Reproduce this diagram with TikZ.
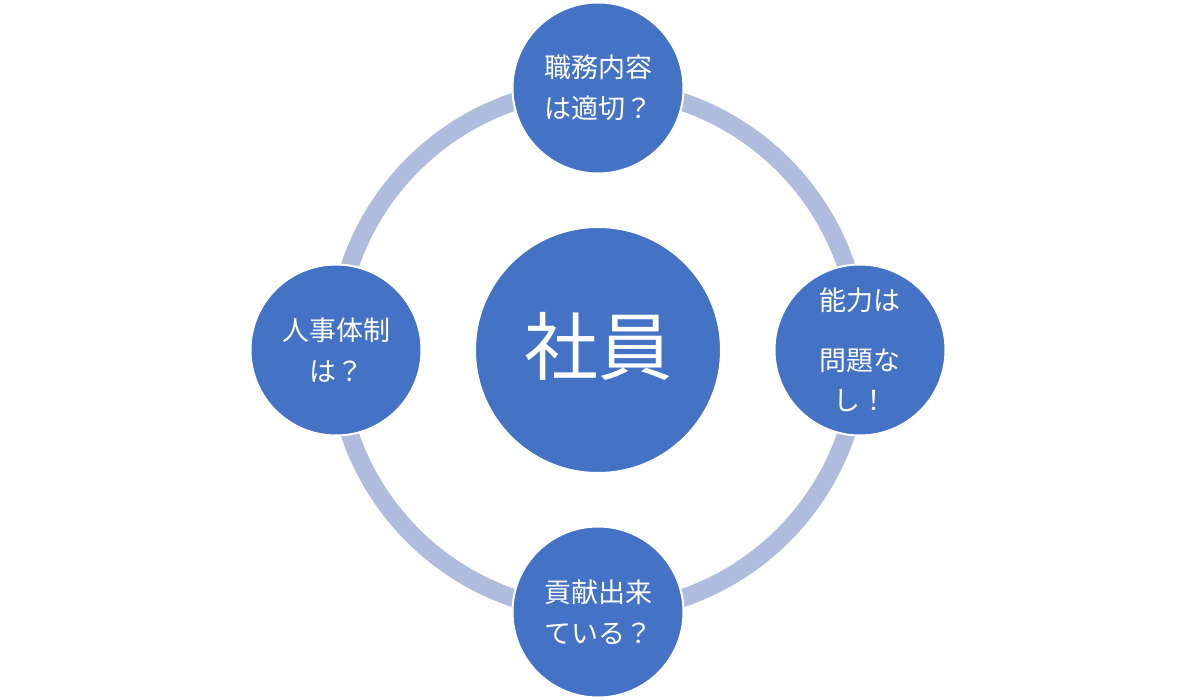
\documentclass[tikz,border=0pt]{standalone}
\usepackage{fontspec}
\setmainfont{Noto Sans CJK JP}
\definecolor{maruao}{RGB}{68,114,196}
\definecolor{waao}{RGB}{176,188,221}
\tikzset{
  maru/.style={circle, fill=maruao, draw=white, line width=2pt, minimum size=171pt,
    inner sep=0pt, text=white, align=center, font=\fontsize{27}{41}\selectfont},
  wa/.style={draw=waao, line width=18pt}
}
\begin{document}
\begin{tikzpicture}[x=1pt, y=-1pt]
	\useasboundingbox (0,0) rectangle (1195,700);
	\path (598,350) coordinate (C)
	(598,88) coordinate (N)
	(860,350) coordinate (E)
	(598,612) coordinate (S)
	(336,350) coordinate (W)
	;
	\draw[wa] (C) circle[radius=262pt];
	\node[maru, minimum size=246pt, font=\fontsize{74}{80}\selectfont] (shain) at (C) {\raisebox{14pt}{社員}};
	\node[maru] (shokumu) at (N) {職務内容\\は適切？};
	\node[maru, font=\fontsize{27}{40}\selectfont] (noryoku) at (E) {能力は\\[20pt]問題な\\し！};
	\node[maru] (koken) at (S) {貢献出来\\ている？};
	\node[maru] (jinji) at (W) {人事体制\\は？};
\end{tikzpicture}
\end{document}
